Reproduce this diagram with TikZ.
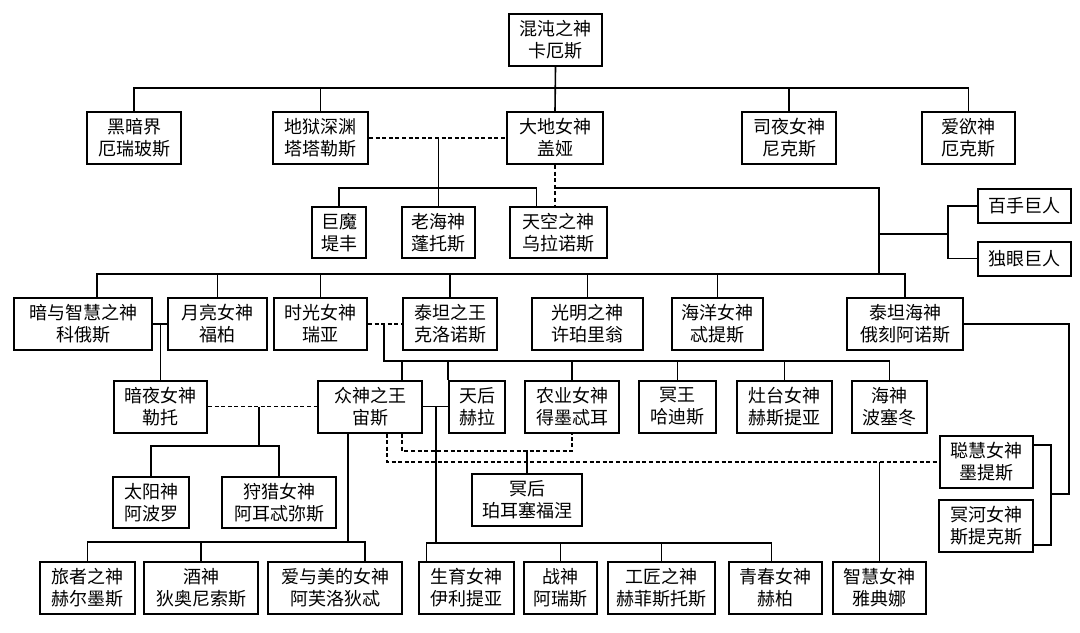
\documentclass[tikz,border=0pt]{standalone}
\usepackage{fontspec}
\usepackage{tikz}
\usetikzlibrary{positioning, calc}
\newfontfamily\cjk{Noto Sans CJK SC}

\begin{document}
\begin{tikzpicture}[
        x=0.5pt, y=-0.5pt,
        line width=0.8pt,
        box/.style={rectangle, draw, line width=1pt, align=center, inner sep=0pt, minimum height=26pt, minimum width=#1, font=\cjk\fontsize{9pt}{11pt}\selectfont},
        giant/.style={box=#1, minimum height=17pt},
        couple/.style={dash pattern=on 2pt off 1.3pt}
    ]
    \useasboundingbox (0,0) rectangle (1080,632);

    % Chaos and first generation
    \node[box=46.5pt] (chaos) at (555.5,40) {混沌之神\\卡厄斯};
    \node[box=47pt] (erebus) at (134,138) {黑暗界\\厄瑞玻斯};
    \node[box=47.5pt] (tartarus) at (320.5,138) {地狱深渊\\塔塔勒斯};
    \node[box=48pt] (gaia) at (555,138) {大地女神\\盖娅};
    \node[box=47pt] (nyx) at (789,138) {司夜女神\\尼克斯};
    \node[box=46.5pt] (eros) at (968.5,138) {爱欲神\\厄克斯};

    % Children of Gaia
    \node[box=27pt, minimum height=25.5pt] (typhon) at (339,232.5) {巨魔\\堤丰};
    \node[box=36.5pt, minimum height=25.5pt] (pontus) at (438.5,232.5) {老海神\\蓬托斯};
    \node[box=48.5pt, minimum height=25.5pt] (uranus) at (558.5,232.5) {天空之神\\乌拉诺斯};
    \node[giant=46.5pt] (hundred) at (1024.5,206) {百手巨人};
    \node[giant=46.5pt] (cyclops) at (1024.5,258.5) {独眼巨人};

    % Titans
    \node[box=69pt] (coeus) at (83,324) {暗与智慧之神\\科俄斯};
    \node[box=49.5pt] (phoebe) at (217.5,324) {月亮女神\\福柏};
    \node[box=46.5pt] (rhea) at (320.5,324) {时光女神\\瑞亚};
    \node[box=47pt] (kronos) at (450,324) {泰坦之王\\克洛诺斯};
    \node[box=55.5pt] (hyperion) at (587.5,324) {光明之神\\许珀里翁};
    \node[box=45.5pt] (tethys) at (717.5,324) {海洋女神\\忒提斯};
    \node[box=58pt] (oceanus) at (905,324) {泰坦海神\\俄刻阿诺斯};

    % Olympians
    \node[box=46.5pt] (leto) at (160.5,406.5) {暗夜女神\\勒托};
    \node[box=52pt] (zeus) at (370,406.5) {众神之王\\宙斯};
    \node[box=28pt] (hera) at (477,406.5) {天后\\赫拉};
    \node[box=47pt] (demeter) at (572,406.5) {农业女神\\得墨忒耳};
    \node[box=38.5pt] (hades) at (677.5,406.5) {冥王\\哈迪斯};
    \node[box=47.5pt] (hestia) at (784.5,406.5) {灶台女神\\赫斯提亚};
    \node[box=37.5pt] (poseidon) at (889.5,406.5) {海神\\波塞冬};
    \node[box=46.5pt] (metis) at (986.5,462) {聪慧女神\\墨提斯};
    \node[box=47pt] (styx) at (986,526) {冥河女神\\斯提克斯};

    % Next generation
    \node[box=55pt] (persephone) at (527,500) {冥后\\珀耳塞福涅};
    \node[box=38pt, minimum height=25.5pt] (apollo) at (151,502.5) {太阳神\\阿波罗};
    \node[box=57pt, minimum height=25.5pt] (artemis) at (279,502.5) {狩猎女神\\阿耳忒弥斯};
    \node[box=47.5pt] (hermes) at (87.5,588) {旅者之神\\赫尔墨斯};
    \node[box=57pt] (dionysus) at (201,588) {酒神\\狄奥尼索斯};
    \node[box=67pt] (aphrodite) at (335,588) {爱与美的女神\\阿芙洛狄忒};
    \node[box=47.5pt] (eileithyia) at (466.5,588) {生育女神\\伊利提亚};
    \node[box=36.5pt] (ares) at (560.5,588) {战神\\阿瑞斯};
    \node[box=53.5pt] (hephaestus) at (661.5,588) {工匠之神\\赫菲斯托斯};
    \node[box=46.5pt] (hebe) at (775.5,588) {青春女神\\赫柏};
    \node[box=46.5pt] (athena) at (879.5,588) {智慧女神\\雅典娜};

    % Junctions
    \coordinate (topbus) at (555,88);
    \coordinate (gaiabus) at (438,188);
    \coordinate (titanbus) at (879,274);
    \coordinate (giantfork) at (948,234);
    \coordinate (kronosbus) at (384,361);
    \coordinate (letobus) at (259,446);
    \coordinate (herabus) at (436,543);
    \coordinate (zeusbus) at (348,542);
    \coordinate (demeterbus) at (527,451);
    \coordinate (oceanusedge) at (1069,494);
    \coordinate (oceanusfork) at (1051,494);

    % Chaos line
    \draw (chaos.south) -- (gaia.north);
    \draw (erebus.north) |- (topbus) -| (eros.north);
    \draw (tartarus.north) -- (tartarus.north |- topbus);
    \draw (nyx.north) -- (nyx.north |- topbus);

    % Gaia line
    \draw[couple] (tartarus.east) -- (gaia.west);
    \draw (pontus.north) -- (pontus.north |- gaia.west);
    \draw (typhon.north) |- (gaiabus) -| ([xshift=-11pt]uranus.north);
    \draw[couple] (gaia.south) -- (gaia.south |- uranus.north);
    \draw (gaia.south |- gaiabus) -| (titanbus);
    \draw (titanbus |- giantfork) -- (giantfork);
    \draw (hundred.west) -| (giantfork) |- (cyclops.west);

    % Titan line
    \draw ([xshift=7pt]coeus.north) |- (titanbus) -| (oceanus.north);
    \foreach \n in {phoebe, rhea, kronos, hyperion, tethys}
        \draw (\n.north) -- (\n.north |- titanbus);
    \draw (coeus.east) -- (phoebe.west);
    \draw (leto.north) -- (leto.north |- coeus.east);
    \draw[couple] (rhea.east) -- (kronos.west);
    \draw (kronosbus |- rhea.east) -- (kronosbus) -| (poseidon.north);
    \draw ([xshift=16pt]zeus.north) -- ([xshift=16pt]zeus.north |- kronosbus);
    \draw (hera.north west) -- (hera.north west |- kronosbus);
    \foreach \n in {demeter, hades, hestia}
        \draw (\n.north) -- (\n.north |- kronosbus);

    % Zeus line
    \draw[couple] (leto.east) -- (zeus.west);
    \draw (letobus |- leto.east) -- (letobus);
    \draw (apollo.north) |- (letobus) -| (artemis.north);
    \draw (zeus.east) -- (hera.west);
    \draw (herabus |- zeus.east) -- (herabus);
    \draw ([xshift=-20pt]eileithyia.north) |- (herabus) -| ([xshift=-2pt]hebe.north);
    \draw (ares.north) -- (ares.north |- herabus);
    \draw (hephaestus.north) -- (hephaestus.north |- herabus);
    \draw ([xshift=-11pt]zeus.south) -- (zeusbus);
    \draw (hermes.north) |- (zeusbus) -| ([xshift=15pt]aphrodite.north);
    \draw (dionysus.north) -- (dionysus.north |- zeusbus);
    \draw[couple] ([xshift=16pt]zeus.south) |- (demeterbus) -| (demeter.south);
    \draw (demeterbus) -- (persephone.north);
    \draw[couple] ([xshift=8.5pt]zeus.south) |- (metis.west);
    \draw (athena.north) -- (athena.north |- metis.west);

    % Oceanus line
    \draw (oceanus.east) -| (oceanusedge) -- (oceanusfork);
    \draw ([yshift=8.5pt]metis.east) -| (oceanusfork) |- ([yshift=-9.5pt]styx.east);

\end{tikzpicture}
\end{document}
